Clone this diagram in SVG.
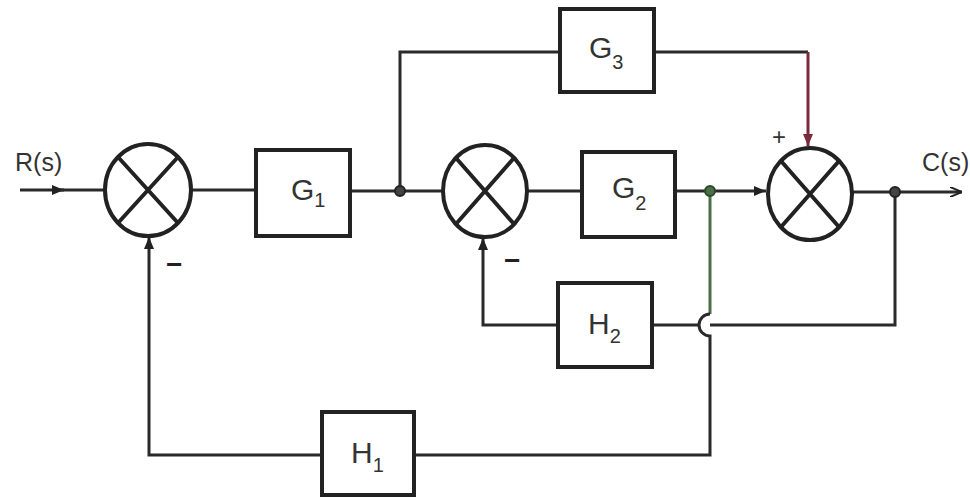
<svg xmlns="http://www.w3.org/2000/svg" width="970" height="500" viewBox="0 0 970 500">
<style>
.ln{fill:none;stroke:#2a2a2a;stroke-width:3}
.bx{fill:none;stroke:#222;stroke-width:4}
.sj{fill:none;stroke:#222;stroke-width:4}
.lbl{font-family:"Liberation Sans",Arial,sans-serif;fill:#333}
.blk{font-family:"Liberation Sans",Arial,sans-serif;fill:#333;font-size:30px}
.sub{font-size:20px}
.sgn{font-family:"Liberation Sans",Arial,sans-serif;fill:#222;font-size:28px;font-weight:bold}
.dot{fill:#444;stroke:#222;stroke-width:2}
</style>
<defs>
<marker id="ah" viewBox="0 0 12 10" refX="12" refY="5" markerWidth="12" markerHeight="10" markerUnits="userSpaceOnUse" orient="auto">
<path d="M0,0 L12,5 L0,10 Z" fill="#222"/>
</marker>
<marker id="ahr" viewBox="0 0 12 10" refX="12" refY="5" markerWidth="12" markerHeight="10" markerUnits="userSpaceOnUse" orient="auto">
<path d="M0,0 L12,5 L0,10 Z" fill="#7a2a3a"/>
</marker>
<marker id="aho" viewBox="0 0 12 10" refX="12" refY="5" markerWidth="12" markerHeight="10" markerUnits="userSpaceOnUse" orient="auto">
<path d="M0,0 L12,5 L0,10" fill="none" stroke="#222" stroke-width="2"/>
</marker>
</defs>
<g id="connectors">
<path class="ln" d="M20,190 H64" marker-end="url(#ah)"/>
<path class="ln" d="M60,190 H105"/>
<path class="ln" d="M191,190 H256"/>
<path class="ln" d="M350,191 H442"/>
<path class="ln" d="M400,191 V52 H560"/>
<path class="ln" d="M654,52 H808"/>
<path d="M808,52 V146" fill="none" stroke="#7a2a3a" stroke-width="3" marker-end="url(#ahr)"/>
<path class="ln" d="M528,191 H582"/>
<path class="ln" d="M675,191 H766" marker-end="url(#ah)"/>
<path class="ln" d="M853,192 H962" marker-end="url(#aho)"/>
<path class="ln" d="M895,192 V325 H710"/>
<path class="ln" d="M699,325 H652"/>
<path class="ln" d="M558,325 H483 V238" marker-end="url(#ah)"/>
<path d="M710,191 V314" fill="none" stroke="#4a6e45" stroke-width="3"/>
<path class="ln" d="M710,314 A11,11 0 0 0 710,336 V455 H414"/>
<path class="ln" d="M322,455 H149 V237" marker-end="url(#ah)"/>
</g>
<g id="R">
<text class="lbl" x="15" y="171" font-size="25">R(s)</text>
</g>
<g id="C">
<text class="lbl" x="922" y="171" font-size="25">C(s)</text>
</g>
<g id="J1">
<ellipse class="sj" cx="148" cy="190" rx="43" ry="46"/>
<path class="sj" d="M118,157 L178,223 M178,157 L118,223"/>
<text class="sgn" x="166" y="274">−</text>
</g>
<g id="G1">
<rect class="bx" x="256" y="150" width="94" height="86"/>
<text class="blk" x="291" y="200">G<tspan class="sub" dy="7">1</tspan></text>
</g>
<g id="J2">
<ellipse class="sj" cx="485" cy="191" rx="42" ry="46"/>
<path class="sj" d="M456,158 L514,224 M514,158 L456,224"/>
<text class="sgn" x="504" y="270">−</text>
</g>
<g id="G2">
<rect class="bx" x="582" y="152" width="93" height="85"/>
<text class="blk" x="612" y="198">G<tspan class="sub" dy="12">2</tspan></text>
</g>
<g id="G3">
<rect class="bx" x="560" y="9" width="94" height="83"/>
<text class="blk" x="589" y="58">G<tspan class="sub" dy="11">3</tspan></text>
</g>
<g id="J3">
<ellipse class="sj" cx="810" cy="194" rx="42" ry="46"/>
<path class="sj" d="M781,161 L839,227 M839,161 L781,227"/>
<text class="lbl" x="772" y="145" font-size="24">+</text>
</g>
<g id="H2">
<rect class="bx" x="558" y="283" width="94" height="84"/>
<text class="blk" x="588" y="334">H<tspan class="sub" dy="9">2</tspan></text>
</g>
<g id="H1">
<rect class="bx" x="322" y="412" width="92" height="83"/>
<text class="blk" x="351" y="463">H<tspan class="sub" dy="9">1</tspan></text>
</g>
<g id="branches">
<circle class="dot" cx="400" cy="191" r="5"/>
<circle cx="710" cy="191" r="5" fill="#4a6e45" stroke="#2a4a2a" stroke-width="2"/>
<circle class="dot" cx="895" cy="192" r="5"/>
</g>
</svg>
